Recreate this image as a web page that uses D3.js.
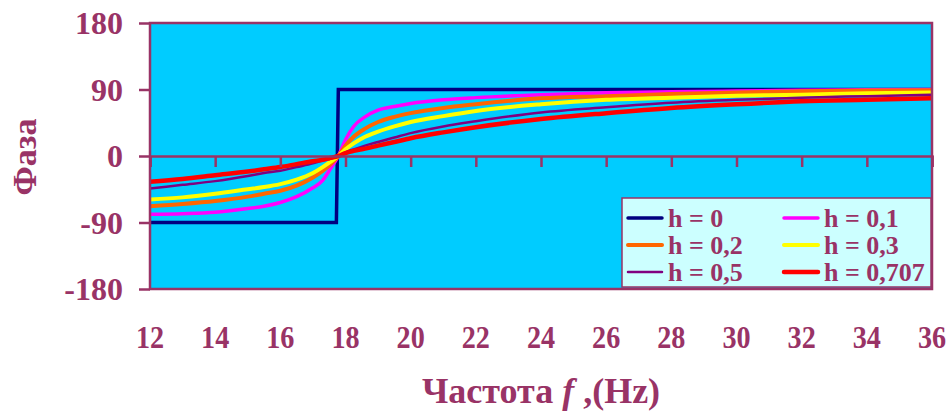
<!DOCTYPE html>
<html><head><meta charset="utf-8">
<script src="https://cdn.jsdelivr.net/npm/d3@7"></script>
<style>
html,body{margin:0;padding:0;background:#fff;}
svg{display:block;}
text{font-family:"Liberation Serif","Times New Roman",serif;font-weight:bold;fill:#993366;}
</style></head><body>
<svg id="chart" width="952" height="415"></svg>
<script>
// ---- data ----
const freq = [12,13,14,15,15.5,16,16.5,17,17.3,17.5,17.78,18,18.25,18.6,19,19.5,20,21,22,24,26,28,30,32,34,36];
const freqH0 = [12,17.72,17.78,36];
const phaseH0   = [-90,-90,90,90];
const phaseH01  = [-79,-78,-76,-71,-68,-63,-55,-43,-33,-20,0,22,40,53,62,67,71,76,79,83,85.5,87,88,89,89.5,90];
const phaseH02  = [-68,-65,-61,-55,-51,-47,-40,-29,-20,-13,0,14,26,37,46,53,58,65,70,78,81,84,86,87.5,88.5,89];
const phaseH03  = [-59,-56,-51,-45,-42,-38,-32,-23,-15,-9,0,9,17,26,33,40,46,54,61,70,76,79,81.5,83,85,86];
const phaseH05  = [-44,-39,-34,-27,-23,-20,-15,-10,-6,-4,0,5,9,14,19,25,31,40,47,59,66,72,76,79,81,83];
const phaseH0707= [-35,-31,-26,-21,-18,-15,-11,-7,-5,-3,0,4,7,10,14,19,24,32,39,50,58,65,70,74,76,78];
const seriesNames = ["h = 0","h = 0,1","h = 0,2","h = 0,3","h = 0,5","h = 0,707"];
const xTicks = [12,14,16,18,20,22,24,26,28,30,32,34,36];
const yTicks = [-180,-90,0,90,180];
const yTitle = "Фаза";
const xTitleMain = "Частота ";
const xTitleVar = "f";
const xTitleUnit = " ,(Hz)";

// ---- styles ----
const colors = ["#000080","#ff00ff","#ff6600","#ffff00","#800080","#ff0000"];
const widths = [3.5,3.5,4,4,2.5,4.5];
const axisCol = "#993366";

const series = [
  {x: freqH0, y: phaseH0},
  {x: freq, y: phaseH01},
  {x: freq, y: phaseH02},
  {x: freq, y: phaseH03},
  {x: freq, y: phaseH05},
  {x: freq, y: phaseH0707}
];

const svg = d3.select("#chart");
const L = 150, R = 932, T = 23, B = 289;
const x = d3.scaleLinear().domain([12,36]).range([L,R]);
const y = d3.scaleLinear().domain([-180,180]).range([B,T]);

// plot background
svg.append("rect").attr("x",L).attr("y",T).attr("width",R-L).attr("height",B-T)
  .attr("fill","#00ccff");

// lines
const lineStep = d3.line().x(d=>x(d[0])).y(d=>y(d[1]));
const lineSmooth = d3.line().x(d=>x(d[0])).y(d=>y(d[1])).curve(d3.curveMonotoneX);
const gLines = svg.append("g");
series.forEach((s,i)=>{
  gLines.append("path")
    .datum(s.x.map((f,j)=>[f,s.y[j]]))
    .attr("d", i===0 ? lineStep : lineSmooth)
    .attr("fill","none").attr("stroke",colors[i]).attr("stroke-width",widths[i])
    .attr("stroke-linejoin","miter");
});

// zero axis with ticks
const xAxis = d3.axisBottom(x).tickValues(xTicks).tickSize(11).tickFormat("");
const gx = svg.append("g").attr("transform",`translate(0,${y(0)})`).call(xAxis);
gx.select(".domain").attr("stroke",axisCol).attr("stroke-width",2.5);
gx.selectAll(".tick line").attr("stroke",axisCol).attr("stroke-width",2.5);

// plot border
svg.append("rect").attr("x",L).attr("y",T).attr("width",R-L).attr("height",B-T)
  .attr("fill","none").attr("stroke",axisCol).attr("stroke-width",2.5);

// y axis
const yAxis = d3.axisLeft(y).tickValues(yTicks).tickSize(11).tickPadding(16).tickFormat(d=>d);
const gy = svg.append("g").attr("transform",`translate(${L},0)`).call(yAxis);
gy.select(".domain").remove();
gy.selectAll(".tick line").attr("stroke",axisCol).attr("stroke-width",2.5);
gy.selectAll(".tick text").attr("font-size",32).attr("fill",axisCol)
  .style("font-family",'"Liberation Serif","Times New Roman",serif').style("font-weight","bold")
  .attr("dy","0.34em");

// x tick labels at bottom
const gxl = svg.append("g");
xTicks.forEach(t=>{
  gxl.append("text").attr("transform",`translate(${x(t)},348) scale(0.88,1)`)
    .attr("text-anchor","middle").attr("font-size",32).text(t);
});

// x title
const xt = svg.append("text").attr("x",541).attr("y",403).attr("text-anchor","middle").attr("font-size",36);
xt.append("tspan").text(xTitleMain);
xt.append("tspan").attr("font-style","italic").text(xTitleVar);
xt.append("tspan").text(xTitleUnit);

// y title
svg.append("text").attr("transform","translate(36,157) rotate(-90)")
  .attr("text-anchor","middle").attr("font-size",34).text(yTitle);

// legend
const lg = svg.append("g");
lg.append("rect").attr("x",622).attr("y",198).attr("width",309).attr("height",89)
  .attr("fill","#ccffff").attr("stroke",axisCol).attr("stroke-width",1.5);
seriesNames.forEach((n,i)=>{
  const col = i%2, row = Math.floor(i/2);
  const sx = col===0 ? 628 : 784;
  const by = 227 + row*27;
  lg.append("line").attr("x1",sx).attr("x2",sx+34).attr("y1",by-9).attr("y2",by-9)
    .attr("stroke",colors[i]).attr("stroke-width",widths[i]).attr("stroke-linecap","round");
  lg.append("text").attr("x",sx+40).attr("y",by).attr("font-size",26).text(n);
});
</script>
</body></html>
